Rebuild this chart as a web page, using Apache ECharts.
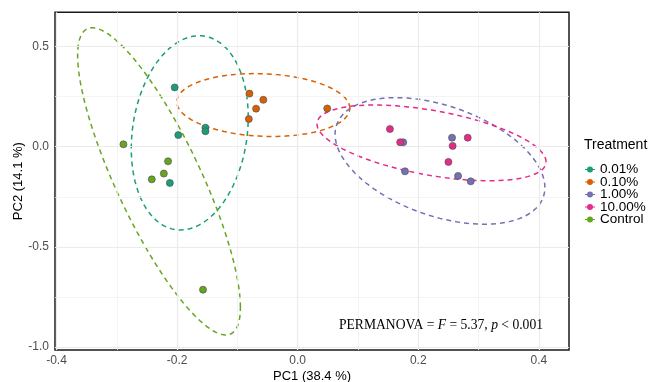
<!DOCTYPE html>
<html>
<head>
<meta charset="utf-8">
<script src="https://cdn.jsdelivr.net/npm/echarts@6/dist/echarts.min.js"></script>
<style>
html,body{margin:0;padding:0;background:#fff;}
#chart{width:654px;height:382px;}
</style>
</head>
<body>
<div id="chart"></div>
<script>
// ---- data ----
const treatments = ['0.01%', '0.10%', '1.00%', '10.00%', 'Control'];
const pts_001 = [[-0.204, 0.296], [-0.198, 0.058], [-0.153, 0.095], [-0.153, 0.077], [-0.212, -0.181]];
const pts_010 = [[-0.080, 0.265], [-0.057, 0.234], [-0.069, 0.190], [-0.081, 0.138], [0.049, 0.191]];
const pts_100 = [[0.175, 0.022], [0.256, 0.045], [0.178, -0.123], [0.266, -0.146], [0.287, -0.173]];
const pts_1000 = [[0.153, 0.088], [0.170, 0.022], [0.282, 0.045], [0.257, 0.004], [0.250, -0.076]];
const pts_ctrl = [[-0.289, 0.012], [-0.215, -0.073], [-0.222, -0.134], [-0.242, -0.163], [-0.157, -0.714]];
// 95% ellipses: centre, half-extent in x, half-extent in y, x-y correlation (per treatment)
const ellCenterX = [-0.179, -0.057, 0.236, 0.222, -0.230];
const ellCenterY = [0.069, 0.208, -0.071, 0.019, -0.173];
const ellHalfX = [0.097, 0.1434, 0.174, 0.190, 0.135];
const ellHalfY = [0.485, 0.157, 0.316, 0.189, 0.767];
const ellCorr = [0.16, -0.10, -0.42, -0.50, -0.82];
// axes
const xTicks = [-0.4, -0.2, 0.0, 0.2, 0.4];
const xMinor = [-0.3, -0.1, 0.1, 0.3];
const yTicks = [-1.0, -0.5, 0.0, 0.5];
const yMinor = [-0.75, -0.25, 0.25];
const xRange = [-0.4025, 0.45];
const yRange = [-1.015, 0.671];

// ---- styles ----
const palette = ['#1B9E77', '#D95F02', '#7570B3', '#E7298A', '#66A61E'];
const groups = [pts_001, pts_010, pts_100, pts_1000, pts_ctrl];

const chart = echarts.init(document.getElementById('chart'), null, {renderer: 'canvas'});

const ellipseData = treatments.map((t, i) => [ellCenterX[i], ellCenterY[i], ellHalfX[i], ellHalfY[i], ellCorr[i], i]);

const series = [];
// grid lines (minor + major) drawn through the axes
series.push({
  type: 'line', data: [], z: 0, silent: true,
  markLine: {
    silent: true, symbol: ['none', 'none'], label: {show: false}, animation: false,
    lineStyle: {color: '#F1F1F1', width: 0.8, type: 'solid'},
    data: xMinor.map(v => ({xAxis: v})).concat(yMinor.map(v => ({yAxis: v})))
  }
});
series.push({
  type: 'line', data: [], z: 0, silent: true,
  markLine: {
    silent: true, symbol: ['none', 'none'], label: {show: false}, animation: false,
    lineStyle: {color: '#EBEBEB', width: 1.2, type: 'solid'},
    data: xTicks.map(v => ({xAxis: v})).concat(yTicks.map(v => ({yAxis: v})))
  }
});
// ellipses
series.push({
  type: 'custom', name: 'ellipses', silent: true, z: 3,
  data: ellipseData,
  encode: {x: 0, y: 1},
  renderItem: function (params, api) {
    const cx = api.value(0), cy = api.value(1), rx = api.value(2), ry = api.value(3), r = api.value(4);
    const idx = api.value(5);
    const N = 120;
    const points = [];
    const s = Math.sqrt(1 - r * r);
    for (let k = 0; k <= N; k++) {
      const t = 2 * Math.PI * k / N;
      const x = cx + rx * Math.cos(t);
      const y = cy + ry * (r * Math.cos(t) + s * Math.sin(t));
      points.push(api.coord([x, y]));
    }
    return {
      type: 'polyline',
      shape: {points: points},
      style: {stroke: palette[idx], fill: 'none', lineWidth: 1.5, lineDash: [5, 4]}
    };
  }
});
// points
treatments.forEach((t, i) => {
  series.push({
    type: 'scatter', name: t, z: 5,
    data: groups[i],
    symbol: 'circle', symbolSize: 7,
    itemStyle: {color: palette[i], borderColor: '#555555', borderWidth: 0.7, opacity: 1}
  });
});

const option = {
  animation: false,
  backgroundColor: '#ffffff',
  grid: {left: 55, top: 12.3, width: 514, height: 337.7, containLabel: false, outerBoundsMode: 'none',
    show: true, borderColor: '#1a1a1a', borderWidth: 1.5, backgroundColor: 'transparent'},
  title: {
    text: 'Treatment', left: 584, top: 138, padding: 0,
    textStyle: {fontFamily: 'Liberation Sans', fontSize: 14, fontWeight: 'normal', color: '#000'}
  },
  legend: {
    data: treatments, orient: 'vertical', left: 585, top: 162.5, padding: 0,
    itemWidth: 10, itemHeight: 8, itemGap: -1.5,
    icon: 'path://M0,3.5L10,3.5L10,4.5L0,4.5Z M2,4A3,3 0 1,1 8,4A3,3 0 1,1 2,4Z',
    itemStyle: {borderWidth: 0},
    textStyle: {fontFamily: 'Liberation Sans', fontSize: 13.5, color: '#000'},
    selectedMode: false
  },
  xAxis: {
    type: 'value', min: xRange[0], max: xRange[1],
    name: 'PC1 (38.4 %)', nameLocation: 'middle', nameGap: 20, nameMoveOverlap: false,
    nameTextStyle: {fontFamily: 'Liberation Sans', fontSize: 13, color: '#000'},
    axisLine: {show: false},
    axisTick: {show: true, customValues: xTicks, length: 4, lineStyle: {color: '#333', width: 1}},
    axisLabel: {customValues: xTicks, margin: 5, fontFamily: 'Liberation Sans', fontSize: 12, color: '#4D4D4D',
      formatter: v => v.toFixed(1)},
    splitLine: {show: false}
  },
  yAxis: {
    type: 'value', min: yRange[0], max: yRange[1],
    name: 'PC2 (14.1 %)', nameLocation: 'middle', nameGap: 30, nameMoveOverlap: false,
    nameTextStyle: {fontFamily: 'Liberation Sans', fontSize: 13, color: '#000'},
    axisLine: {show: false},
    axisTick: {show: true, customValues: yTicks, length: 4, lineStyle: {color: '#333', width: 1}},
    axisLabel: {customValues: yTicks, margin: 6, fontFamily: 'Liberation Sans', fontSize: 12, color: '#4D4D4D',
      formatter: v => v.toFixed(1)},
    splitLine: {show: false}
  },
  graphic: [{
    type: 'text', x: 543, y: 325, z: 10,
    style: {
      text: '{n|PERMANOVA = }{i|F}{n| = 5.37, }{i|p}{n| < 0.001}',
      align: 'right', verticalAlign: 'middle',
      rich: {
        n: {fontFamily: 'Liberation Serif', fontSize: 13.6, fill: '#000'},
        i: {fontFamily: 'Liberation Serif', fontSize: 13.6, fontStyle: 'italic', fill: '#000'}
      }
    }
  }],
  series: series
};
chart.setOption(option);
</script>
</body>
</html>
